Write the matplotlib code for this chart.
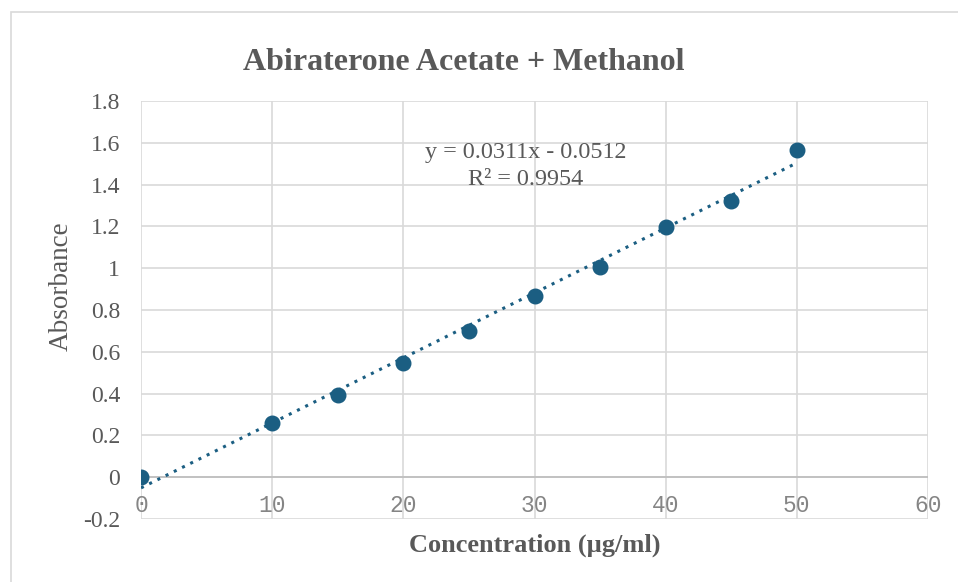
import numpy as np
import matplotlib.pyplot as plt
from matplotlib.patches import Rectangle

# calibration data
conc = [0, 10, 15, 20, 25, 30, 35, 40, 45, 50]
absorb = [0.0, 0.259, 0.393, 0.545, 0.699, 0.868, 1.006, 1.197, 1.322, 1.567]

# linear trendline y = slope*x + intercept
slope = 0.0311
intercept = -0.0512
r2 = 0.9954

x_ticks = [0, 10, 20, 30, 40, 50, 60]
y_ticks = [-0.2, 0, 0.2, 0.4, 0.6, 0.8, 1, 1.2, 1.4, 1.6, 1.8]

blue = '#1b5e82'
grey_text = '#595959'
grid_col = '#d9d9d9'

plt.rcParams['font.family'] = ['Liberation Serif', 'DejaVu Serif']

fig = plt.figure(figsize=(9.58, 5.82), dpi=100)
ax = fig.add_axes([141 / 958, 1 - 519 / 582, (928 - 141) / 958, (519 - 101) / 582])

# outer chart border
fig.patches.append(Rectangle((11 / 958, -0.05), 1.0, 1 - 12 / 582 + 0.05,
                             transform=fig.transFigure, fill=False,
                             edgecolor='#d9d9d9', linewidth=1.2))

ax.set_xlim(0, 60)
ax.set_ylim(-0.2, 1.8)
ax.set_xticks(x_ticks)
ax.set_yticks(y_ticks)
ax.set_yticklabels(['%g' % v for v in y_ticks], fontsize=17, color=grey_text)
ax.grid(True, color=grid_col, linewidth=1.2)
ax.set_axisbelow(True)
for s in ax.spines.values():
    s.set_visible(False)
ax.axhline(0, color='#bfbfbf', linewidth=1.3, zorder=1)
ax.tick_params(length=0)
ax.tick_params(axis='y', pad=15)

# x labels sit just below the zero line
ax.set_xticklabels([])
for v in x_ticks:
    ax.text(v, -0.1345, str(v), ha='center', va='center', fontsize=16.5,
            family='Liberation Mono', color='#858585')

xs = np.array([0, 50])
ax.plot(xs, slope * xs + intercept, linestyle=(0, (1, 2)), color=blue,
        linewidth=2.2, zorder=2)
ax.scatter(conc, absorb, s=110, color=blue, zorder=3)

ax.text(29.3, 1.49, 'y = %.4fx - %.4f\nR² = %.4f' % (slope, -intercept, r2),
        ha='center', va='center', fontsize=17.4, color=grey_text, linespacing=1.35)

ax.set_title('Abiraterone Acetate + Methanol', fontsize=23, fontweight='bold',
             color=grey_text, pad=22, x=0.41)
ax.set_xlabel('Concentration (µg/ml)', fontsize=19, fontweight='bold',
              color=grey_text, labelpad=7)
ax.set_ylabel('Absorbance', fontsize=19.5, color=grey_text)
ax.yaxis.set_label_coords(-0.086, 0.557)

fig.savefig('out.png', dpi=100)
